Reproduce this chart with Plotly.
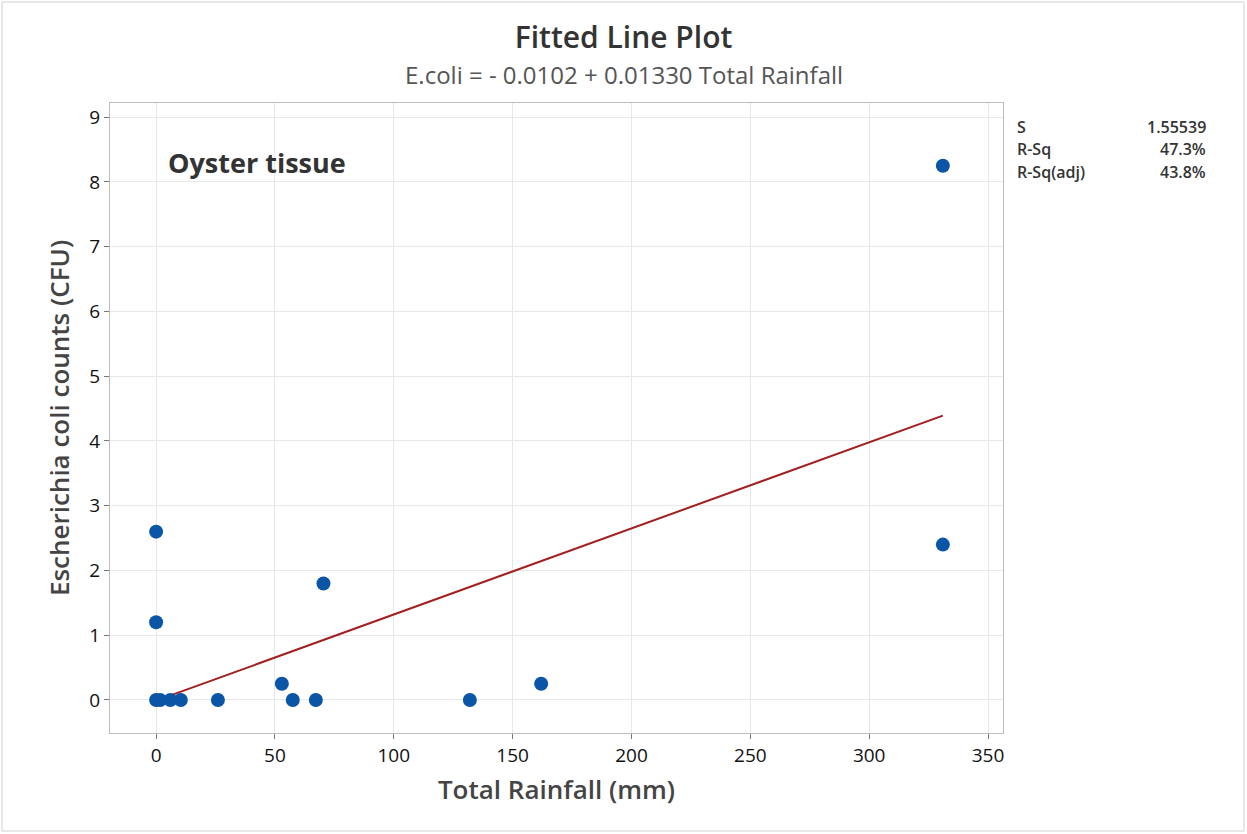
import plotly.graph_objects as go

# Data
rainfall = [0, 0, 0, 1.7, 6, 10.4, 26, 52.9, 57.5, 67.2, 70.4, 132, 162, 331, 331]
ecoli =    [2.6, 1.2, 0, 0, 0, 0, 0, 0.25, 0, 0, 1.8, 0, 0.25, 8.25, 2.4]
intercept = -0.0102
slope = 0.01330
stat_labels = ["S", "R-Sq", "R-Sq(adj)"]
stat_values = ["1.55539", "47.3%", "43.8%"]
x_ticks = [0, 50, 100, 150, 200, 250, 300, 350]
y_ticks = [0, 1, 2, 3, 4, 5, 6, 7, 8, 9]

FONT = "Open Sans"
W, H = 1247, 834
L, R, T, B = 110, 1003, 103, 733

fig = go.Figure()
xmin, xmax = min(rainfall), max(rainfall)
fig.add_trace(go.Scatter(
    x=[xmin, xmax], y=[intercept + slope * xmin, intercept + slope * xmax],
    mode="lines", line=dict(color="#A31F1F", width=2), showlegend=False))
fig.add_trace(go.Scatter(
    x=rainfall, y=ecoli, mode="markers",
    marker=dict(color="#0A55A5", size=14), showlegend=False))

def px_x(p):
    return (p - L) / (R - L)

def px_y(p):
    return (B - p) / (B - T)

fig.update_layout(
    width=W, height=H,
    margin=dict(l=L, r=W - R, t=T, b=H - B),
    paper_bgcolor="white", plot_bgcolor="white",
    font=dict(family=FONT, color="#222222"),
    title=dict(text="Fitted Line Plot", x=0.5, xanchor="center", y=1 - 37 / H, yanchor="middle",
               font=dict(family=FONT, size=30, color="#333333", weight=600)),
    xaxis=dict(range=[-19.4, 356.3], tickvals=x_ticks, showgrid=True, gridcolor="#E8E8E8",
               zeroline=False, showline=True, linecolor="#BDBDBD", mirror=True,
               ticks="outside", ticklen=5, tickcolor="#777777",
               tickfont=dict(family=FONT, size=19, color="#111111"),
               title=dict(text="Total Rainfall (mm)", standoff=14,
                          font=dict(family=FONT, size=26, color="#444444", weight=600))),
    yaxis=dict(range=[-0.51, 9.22], tickvals=y_ticks, showgrid=True, gridcolor="#E8E8E8",
               zeroline=False, showline=True, linecolor="#BDBDBD", mirror=True,
               ticks="outside", ticklen=5, tickcolor="#777777",
               tickfont=dict(family=FONT, size=19, color="#111111"),
               title=dict(text="Escherichia coli counts (CFU)", standoff=12,
                          font=dict(family=FONT, size=26, color="#444444", weight=600))),
)

anns = [
    dict(text="E.coli = - 0.0102 + 0.01330 Total Rainfall", x=(W / 2 - L) / (R - L), y=px_y(75),
         xref="paper", yref="paper", showarrow=False, xanchor="center", yanchor="middle",
         font=dict(family=FONT, size=24, color="#555555")),
    dict(text="<b>Oyster tissue</b>", x=px_x(166), y=px_y(162), xref="paper", yref="paper",
         showarrow=False, xanchor="left", yanchor="middle",
         font=dict(family=FONT, size=27, color="#333333")),
]
for i, (lab, val) in enumerate(zip(stat_labels, stat_values)):
    yy = px_y(127 + 22.5 * i)
    anns.append(dict(text=lab, x=px_x(1015), y=yy, xref="paper", yref="paper", showarrow=False,
                     xanchor="left", yanchor="middle",
                     font=dict(family=FONT, size=16, color="#333333", weight=600)))
    anns.append(dict(text=val, x=px_x(1208), y=yy, xref="paper", yref="paper", showarrow=False,
                     xanchor="right", yanchor="middle",
                     font=dict(family=FONT, size=16, color="#333333", weight=600)))
fig.update_layout(annotations=anns)

fig.add_shape(type="rect", xref="paper", yref="paper",
              x0=px_x(2), x1=px_x(1244), y0=px_y(831), y1=px_y(2),
              line=dict(color="#D0D0D0", width=1), layer="below")

fig.write_html("out.html")
